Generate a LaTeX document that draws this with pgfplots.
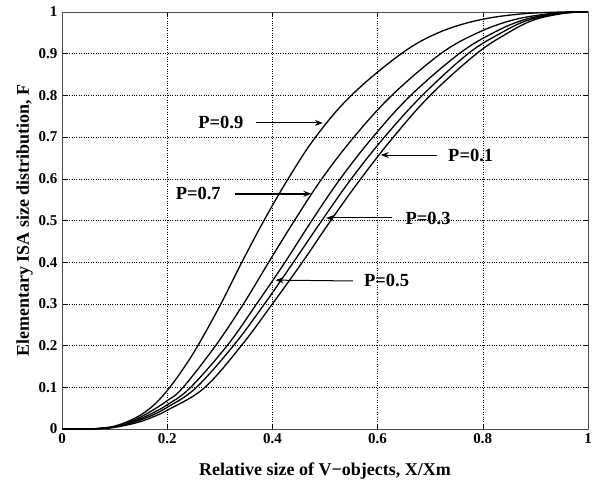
\documentclass[border=0pt]{standalone}
\usepackage{pgfplots}
\pgfplotsset{compat=1.18}
\usepackage{fontspec}
\setmainfont{Liberation Serif}
\usetikzlibrary{arrows.meta}
\begin{document}
\begin{tikzpicture}
\begin{axis}[
  scale only axis,
  width=526pt, height=417pt,
  xmin=0, xmax=1, ymin=0, ymax=1,
  xtick={0,0.2,0.4,0.6,0.8,1},
  xticklabels={\textbf{0},\textbf{0.2},\textbf{0.4},\textbf{0.6},\textbf{0.8},\textbf{1}},
  ytick={0,0.1,0.2,0.3,0.4,0.5,0.6,0.7,0.8,0.9,1},
  yticklabels={\textbf{0},\textbf{0.1},\textbf{0.2},\textbf{0.3},\textbf{0.4},\textbf{0.5},\textbf{0.6},\textbf{0.7},\textbf{0.8},\textbf{0.9},\textbf{1}},
  tick label style={font=\fontsize{15}{15}\selectfont},
  xticklabel style={yshift=-1pt},
  yticklabel style={xshift=-1pt},
  tick align=inside,
  major tick length=5pt,
  tick style={black, line width=0.5pt},
  axis line style={black!70, line width=0.7pt},
  grid=major,
  major grid style={black, dotted, line width=0.5pt},
  xlabel={\textbf{Relative size of V−objects, X/Xm}},
  ylabel={\textbf{Elementary ISA size distribution, F}},
  label style={font=\fontsize{18}{18}\selectfont},
  xlabel style={yshift=-12pt},
  ylabel style={yshift=-1pt},
  curve/.style={black, line width=1.3pt, smooth, tension=0.6, no markers},
]
% P=0.9
\addplot[curve] coordinates {(0,0) (0.05,0) (0.08,0.003) (0.1,0.007) (0.125,0.018) (0.15,0.034) (0.175,0.058) (0.2,0.092) (0.228,0.14) (0.256,0.195) (0.300,0.295) (0.342,0.4) (0.384,0.5) (0.430,0.6) (0.482,0.7) (0.550,0.8) (0.645,0.9) (0.715,0.95) (0.79,0.98) (0.87,0.995) (0.95,1) (1,1)};
% P=0.7
\addplot[curve] coordinates {(0,0) (0.05,0) (0.08,0.002) (0.1,0.006) (0.125,0.015) (0.15,0.029) (0.175,0.047) (0.2,0.068) (0.229,0.098) (0.292,0.2) (0.345,0.3) (0.393,0.4) (0.442,0.5) (0.494,0.6) (0.555,0.7) (0.627,0.8) (0.72,0.9) (0.79,0.95) (0.855,0.98) (0.92,0.995) (0.97,1) (1,1)};
% P=0.5
\addplot[curve] coordinates {(0,0) (0.05,0) (0.08,0.002) (0.1,0.005) (0.125,0.013) (0.15,0.025) (0.175,0.04) (0.2,0.058) (0.243,0.098) (0.314,0.2) (0.370,0.3) (0.424,0.4) (0.475,0.5) (0.529,0.6) (0.591,0.7) (0.663,0.8) (0.755,0.9) (0.82,0.95) (0.875,0.98) (0.93,0.995) (0.975,1) (1,1)};
% P=0.3
\addplot[curve] coordinates {(0,0) (0.05,0) (0.08,0.002) (0.1,0.005) (0.125,0.012) (0.15,0.022) (0.175,0.035) (0.2,0.052) (0.254,0.098) (0.326,0.2) (0.385,0.3) (0.440,0.4) (0.494,0.5) (0.550,0.6) (0.613,0.7) (0.685,0.8) (0.772,0.9) (0.835,0.95) (0.885,0.98) (0.94,0.995) (0.98,1) (1,1)};
% P=0.1
\addplot[curve] coordinates {(0,0) (0.05,0) (0.08,0.001) (0.1,0.004) (0.125,0.01) (0.15,0.018) (0.175,0.03) (0.2,0.045) (0.270,0.098) (0.341,0.2) (0.400,0.3) (0.457,0.4) (0.511,0.5) (0.568,0.6) (0.630,0.7) (0.700,0.8) (0.788,0.9) (0.848,0.95) (0.895,0.98) (0.945,0.995) (0.985,1) (1,1)};
% annotations
\node[font=\fontsize{18.5}{18.5}\selectfont\bfseries] at (axis cs:0.302,0.734) {P=0.9};
\draw[-{Stealth[length=8pt,width=6pt]}, line width=1pt] (axis cs:0.368,0.734) -- (axis cs:0.496,0.734);
\node[font=\fontsize{18.5}{18.5}\selectfont\bfseries] at (axis cs:0.259,0.564) {P=0.7};
\draw[-{Stealth[length=8pt,width=6pt]}, line width=1.8pt] (axis cs:0.328,0.564) -- (axis cs:0.474,0.564);
\node[font=\fontsize{18.5}{18.5}\selectfont\bfseries] at (axis cs:0.777,0.657) {P=0.1};
\draw[-{Stealth[length=8pt,width=6pt]}, line width=1pt] (axis cs:0.713,0.657) -- (axis cs:0.606,0.657);
\node[font=\fontsize{18.5}{18.5}\selectfont\bfseries] at (axis cs:0.696,0.506) {P=0.3};
\draw[-{Stealth[length=8pt,width=6pt]}, line width=1pt] (axis cs:0.628,0.506) -- (axis cs:0.502,0.506);
\node[font=\fontsize{18.5}{18.5}\selectfont\bfseries] at (axis cs:0.617,0.355) {P=0.5};
\draw[-{Stealth[length=8pt,width=6pt]}, line width=1pt] (axis cs:0.553,0.355) -- (axis cs:0.406,0.357);
\coordinate (SW) at (rel axis cs:0,0);
\coordinate (NE) at (rel axis cs:1,1);
\end{axis}
\pgfresetboundingbox
\path ([shift={(-62pt,-55pt)}]SW) rectangle ([shift={(5pt,12pt)}]NE);
\end{tikzpicture}
\end{document}
